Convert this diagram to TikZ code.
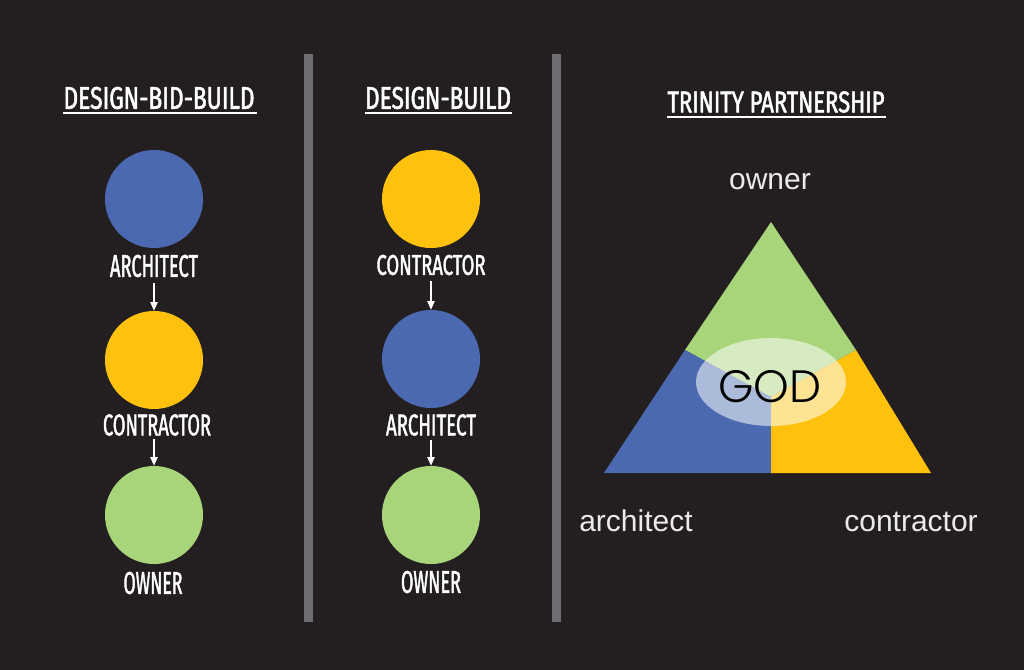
\documentclass[tikz,border=0pt]{standalone}
\usepackage{fontspec}
\usepackage{graphicx}
\usetikzlibrary{arrows.meta,calc}
\newfontfamily\condfont[FakeStretch=0.7,FakeBold=1.6]{Fira Sans}
\newfontfamily\labfont{Liberation Sans}
\IfFontExistsTF{Poppins Light}{\newfontfamily\godfont{Poppins Light}}{\newfontfamily\godfont{Poppins}}
\newlength\pxu
\setlength\pxu{0.75pt}
\definecolor{bg}{RGB}{35,31,32}
\definecolor{sepgray}{RGB}{109,110,113}
\definecolor{cblue}{RGB}{75,105,177}
\definecolor{cyellow}{RGB}{254,194,14}
\definecolor{cgreen}{RGB}{168,212,122}
\definecolor{labgray}{RGB}{235,235,235}
\newcommand{\captxt}[3]{\resizebox{#1\pxu}{#2\pxu}{\condfont #3}}
\begin{document}
\begin{tikzpicture}[x=0.75pt,y=-0.75pt,
  circ/.style={circle,minimum size=73.5pt,inner sep=0pt,draw=none},
  capl/.style={text=white,inner sep=0pt},
  uline/.style={draw=white,line width=1.5pt},
  arr/.style={draw=white,line width=1.1pt,-{Triangle[length=6.5pt,width=5.5pt]}},
  sepbar/.style={fill=sepgray},
  lowlab/.style={text=labgray,inner sep=0pt,font=\labfont\fontsize{22.5}{27}\selectfont},
  godtxt/.style={text=black,inner sep=0pt,font=\godfont\fontsize{34}{40}\selectfont}]
\fill[bg] (0,0) rectangle (1024,670);
\path[use as bounding box] (0,0) rectangle (1024,670);
% separators
\fill[sepbar] (304,54) rectangle (313,622);
\fill[sepbar] (552,54) rectangle (561,622);
% titles
\node[capl] (t1) at (159,98) {\captxt{191}{22}{DESIGN-BID-BUILD}};
\node[capl] (t2) at (438,98) {\captxt{146}{22}{DESIGN-BUILD}};
\node[capl] (t3) at (776,102) {\captxt{217}{21}{TRINITY PARTNERSHIP}};
\draw[uline] ($(t1.south west)+(0,4)$) -- ($(t1.south east)+(2,4)$);
\draw[uline] ($(t2.south west)+(0,4)$) -- ($(t2.south east)+(1,4)$);
\draw[uline] ($(t3.south west)+(0,4)$) -- ($(t3.south east)+(1,4)$);
% column 1
\node[circ,fill=cblue] (a1) at (154,199) {};
\node[capl] (la1) at (154,266) {\captxt{88}{22}{ARCHITECT}};
\node[circ,fill=cyellow] (c1) at (154,360) {};
\node[capl] (lc1) at (157,425) {\captxt{108}{21}{CONTRACTOR}};
\node[circ,fill=cgreen] (o1) at (154,515) {};
\node[capl] (lo1) at (153,583) {\captxt{59}{22}{OWNER}};
\draw[arr] ([yshift=-4.5pt]la1.south) -- (c1.north);
\draw[arr] ([yshift=-2.5pt]lc1.south -| c1.north) -- (o1.north);
% column 2
\node[circ,fill=cyellow] (c2) at (431,199) {};
\node[capl] (lc2) at (431,265) {\captxt{109}{20}{CONTRACTOR}};
\node[circ,fill=cblue] (a2) at (431,359) {};
\node[capl] (la2) at (431,425) {\captxt{90}{21}{ARCHITECT}};
\node[circ,fill=cgreen] (o2) at (431,515) {};
\node[capl] (lo2) at (431,582) {\captxt{60}{22}{OWNER}};
\draw[arr] ([yshift=-4.5pt]lc2.south) -- (a2.north);
\draw[arr] ([yshift=-3pt]la2.south) -- (o2.north);
% triangle
\coordinate (T) at (771,222);
\coordinate (BL) at (604,473);
\coordinate (BR) at (931,473);
\coordinate (ML) at (685,350);
\coordinate (MR) at (856,350);
\coordinate (C) at (771,397);
\coordinate (MB) at (771,473);
\fill[cgreen] (T) -- (MR) -- (C) -- (ML) -- cycle;
\fill[cblue] (ML) -- (C) -- (MB) -- (BL) -- cycle;
\fill[cyellow] (C) -- (MR) -- (BR) -- (MB) -- cycle;
\fill[white,opacity=0.55] (771,382) ellipse [x radius=75, y radius=44];
\node[godtxt,anchor=base] (god) at (770,402) {GOD};
% lower-case labels
\node[lowlab,anchor=base] (own) at (770,190) {owner};
\node[lowlab,anchor=base west] (arch) at (579,531) {architect};
\node[lowlab,anchor=base east] (cont) at (978,531) {contractor};
\end{tikzpicture}
\end{document}
